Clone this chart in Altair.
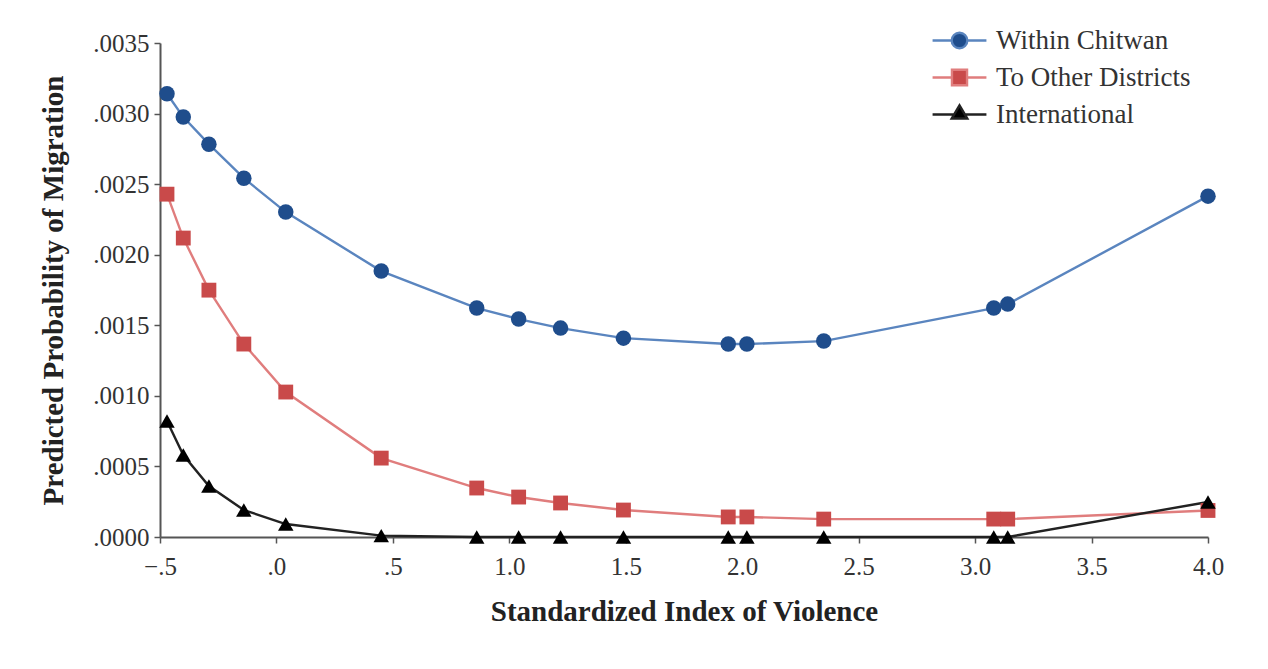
import altair as alt
import pandas as pd

series_names = ["Within Chitwan", "To Other Districts", "International"]
violence = [-0.47, -0.40, -0.29, -0.14, 0.04, 0.45, 0.86, 1.04, 1.22, 1.49, 1.94, 2.02, 2.35, 3.08, 3.14, 4.0]
within_chitwan = [0.00314, 0.002975, 0.002783, 0.002542, 0.002302, 0.001884, 0.001622, 0.001544, 0.00148,
                  0.001409, 0.001367, 0.001367, 0.001388, 0.001622, 0.00165, 0.002415]
other_districts = [0.002429, 0.002118, 0.001749, 0.001367, 0.001027, 0.000559, 0.000347, 0.000283, 0.000241,
                   0.000191, 0.000142, 0.000142, 0.000127, 0.000127, 0.000127, 0.000188]
international = [0.000822, 0.000581, 0.000361, 0.000191, 0.000092, 0.00001, 0.0, 0.0, 0.0,
                 0.0, 0.0, 0.0, 0.0, 0.0, 0.0, 0.000248]

marker_colors = ["#1f4d8c", "#c94a4a", "#000000"]
line_colors = ["#5a85bf", "#e07d7d", "#222222"]

rows = []
for name, vals in zip(series_names, [within_chitwan, other_districts, international]):
    for x, y in zip(violence, vals):
        rows.append({"series": name, "x": x, "y": y})
df = pd.DataFrame(rows)

FONT = "Liberation Serif"

xscale = alt.Scale(domain=[-0.5, 4.0], nice=False, zero=False)
yscale = alt.Scale(domain=[0, 0.0035], nice=False)

xenc = alt.X("x:Q", scale=xscale,
             axis=alt.Axis(title="Standardized Index of Violence", values=[-0.5, 0, 0.5, 1, 1.5, 2, 2.5, 3, 3.5, 4],
                           labelExpr="replace(format(datum.value, '.1f'), '0.', '.')",
                           labelFlush=False, labelOverlap=False,
                           grid=False, tickSize=6, labelPadding=11, titlePadding=18))
yenc = alt.Y("y:Q", scale=yscale,
             axis=alt.Axis(title="Predicted Probability of Migration",
                           values=[0, 0.0005, 0.001, 0.0015, 0.002, 0.0025, 0.003, 0.0035],
                           labelExpr="replace(format(datum.value, '.4f'), '0.', '.')",
                           labelFlush=False, labelOverlap=False,
                           grid=False, tickSize=6, labelPadding=5, titlePadding=24))

shapes = ["circle", "square", "triangle-up"]
sizes = [240, 220, 240]
layers = []
for i, name in enumerate(series_names):
    sub = alt.Chart(df).transform_filter(alt.datum.series == name)
    layers.append(sub.mark_line(strokeWidth=2.4, color=line_colors[i]).encode(x=xenc, y=yenc))
for i, name in enumerate(series_names):
    sub = alt.Chart(df).transform_filter(alt.datum.series == name)
    layers.append(sub.mark_point(filled=True, opacity=1, shape=shapes[i], size=sizes[i],
                                 color=marker_colors[i]).encode(x=xenc, y=yenc))

legend_paths = [
    "M-1,0L-0.3,0M0.3,0L1,0M0.29,0A0.29,0.29,0,1,1,-0.29,0A0.29,0.29,0,1,1,0.29,0Z",
    "M-1,0L-0.29,0M0.29,0L1,0M-0.28,-0.29L0.28,-0.29L0.28,0.29L-0.28,0.29Z",
    "M-1,0L-0.22,0M0.22,0L1,0M0,-0.34L0.29,0.15L-0.29,0.15Z",
]
legend_layer = alt.Chart(df).transform_filter("false").mark_point(
    filled=True, opacity=1, size=2900, strokeWidth=2.4).encode(
    x="x:Q", y="y:Q",
    fill=alt.Fill("series:N", scale=alt.Scale(domain=series_names, range=marker_colors), legend=alt.Legend(title=None)),
    stroke=alt.Stroke("series:N", scale=alt.Scale(domain=series_names, range=line_colors), legend=alt.Legend(title=None)),
    shape=alt.Shape("series:N", scale=alt.Scale(domain=series_names, range=legend_paths), legend=alt.Legend(title=None)),
)

chart = alt.layer(*layers, legend_layer).properties(
    width=1048, height=494,
    autosize=alt.AutoSizeParams(type="none"),
    padding={"left": 152, "top": 35, "right": 52, "bottom": 124},
).configure_view(stroke=None).configure_axis(
    labelFont=FONT, titleFont=FONT, labelFontSize=25, titleFontSize=29, titleFontWeight="bold",
    labelColor="#333333", titleColor="#222222", domainColor="#555555", tickColor="#555555",
    domainWidth=2, tickWidth=1.5,
).configure_legend(
    orient="none", legendX=771, legendY=-21, labelFont=FONT, labelFontSize=27, labelColor="#333333",
    symbolSize=2900, symbolStrokeWidth=2.4, symbolOpacity=1, padding=0, rowPadding=0, clipHeight=37,
    labelOffset=8, labelLimit=400,
)

chart.save("out.html", embed_options={"renderer": "svg", "actions": False})
